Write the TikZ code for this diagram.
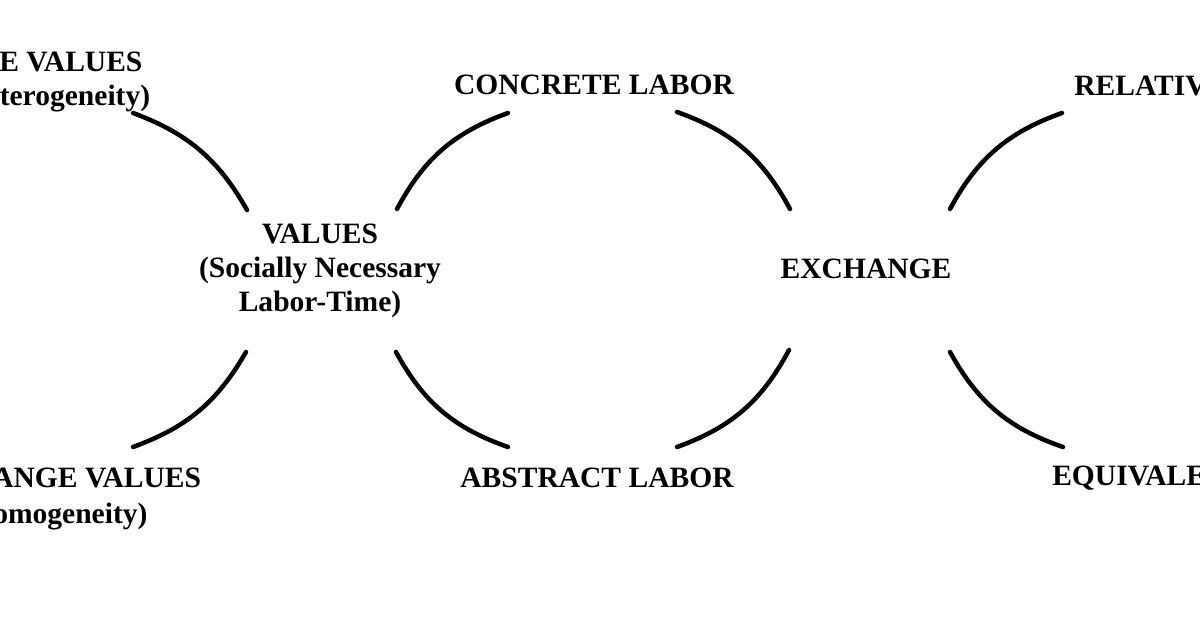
\documentclass[tikz,border=0pt]{standalone}
\usepackage{fontspec}
\setmainfont{Liberation Serif}
\usepackage{tikz}
\usetikzlibrary{positioning}
\tikzset{
    term/.style={align=center, inner sep=0pt, font=\fontsize{21}{24.2}\selectfont\bfseries},
    arc/.style={line width=3.2pt, line cap=round}
}

\begin{document}
\begin{tikzpicture}[x=0.025cm, y=-0.025cm]
                        \useasboundingbox (0,0) rectangle (1200,628);
                        \clip (0,0) rectangle (1200,628);

                        \node[term] (use) at (52, 82) {USE VALUES\\(Heterogeneity)};
                        \node[term, font=\fontsize{21}{25.5}\selectfont\bfseries] (exv) at (54, 499) {EXCHANGE VALUES\\(Homogeneity)};
                        \node[term] (val) at (320, 271) {VALUES\\(Socially Necessary\\Labor-Time)};
                        \node[term] (conc) at (594, 85) {CONCRETE LABOR};
                        \node[term] (abs) at (597, 478) {ABSTRACT LABOR};
                        \node[term] (exch) at (866, 269) {EXCHANGE};
                        \node[term, anchor=west] (rel) at (1074, 86) {RELATIVE};
                        \node[term, anchor=west] (equ) at (1052, 478) {EQUIVALENT};

                        % arc ends
                        \coordinate (use-e) at (133, 113);
                        \coordinate (exv-e) at (133, 447);
                        \coordinate (val-nw) at (247, 210);
                        \coordinate (val-sw) at (246, 352);
                        \coordinate (val-ne) at (397, 209);
                        \coordinate (val-se) at (396, 352);
                        \coordinate (conc-w) at (508, 113);
                        \coordinate (conc-e) at (677, 112);
                        \coordinate (abs-w) at (508, 447);
                        \coordinate (abs-e) at (677, 447);
                        \coordinate (exch-nw) at (790, 209);
                        \coordinate (exch-sw) at (789, 350);
                        \coordinate (exch-ne) at (950, 209);
                        \coordinate (exch-se) at (950, 352);
                        \coordinate (rel-w) at (1062, 113);
                        \coordinate (equ-w) at (1063, 447);

                        \draw[arc]
                        (use-e) edge[bend left=20] (val-nw)
                        (exv-e) edge[bend right=20] (val-sw)
                        (val-ne) edge[bend left=21] (conc-w)
                        (conc-e) edge[bend left=21] (exch-nw)
                        (val-se) edge[bend right=21] (abs-w)
                        (abs-e) edge[bend right=21] (exch-sw)
                        (exch-ne) edge[bend left=21] (rel-w)
                        (exch-se) edge[bend right=21] (equ-w);
                    \end{tikzpicture}
\end{document}
